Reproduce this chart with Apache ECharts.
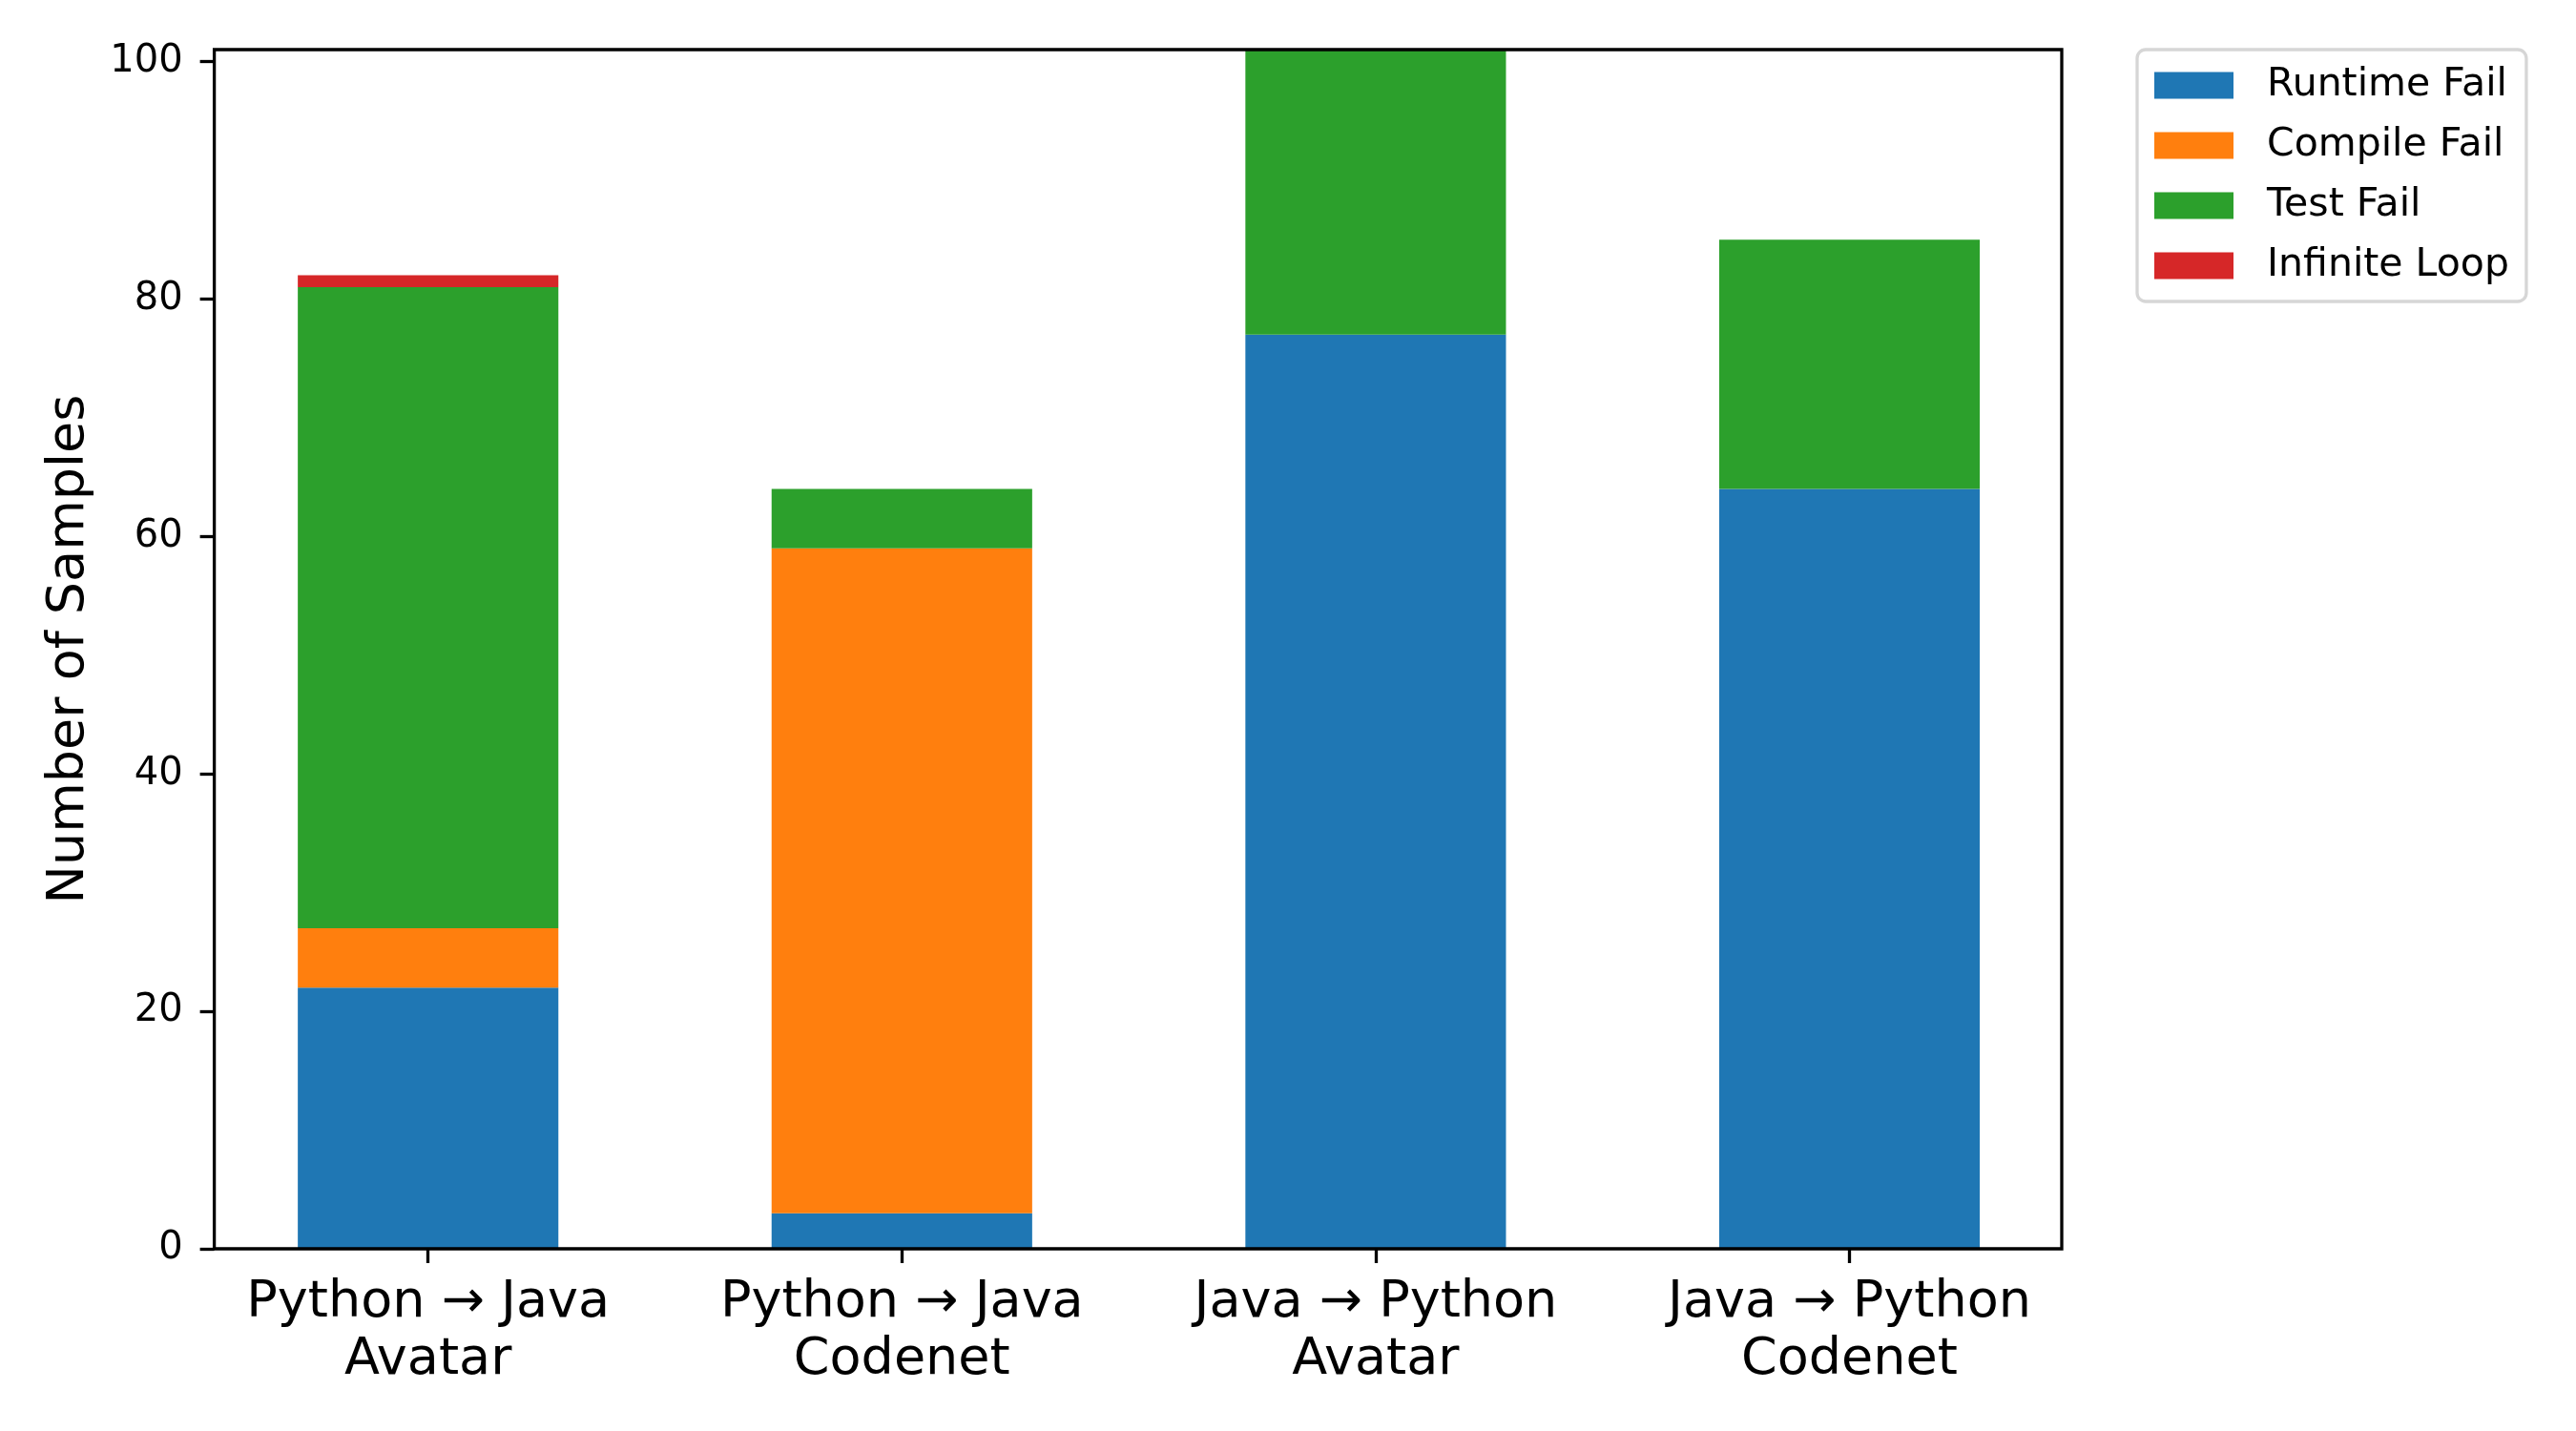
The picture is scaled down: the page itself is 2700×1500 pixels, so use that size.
<!DOCTYPE html>
<html lang="en">
<head>
    <meta charset="UTF-8">
    <title>Failure types</title>
    <script src="https://cdn.jsdelivr.net/npm/echarts@6/dist/echarts.min.js"></script>
    <style>
        html, body { margin: 0; padding: 0; background: #fff; }
        #chart { width: 2700px; height: 1500px; }
    </style>
</head>
<body>
<div id="chart"></div>
<script>
    // data
    var categories = ['Python → Java\nAvatar', 'Python → Java\nCodenet', 'Java → Python\nAvatar', 'Java → Python\nCodenet'];
    var runtimeFail = [22, 3, 77, 64];
    var compileFail = [5, 56, 0, 0];
    var testFail = [54, 5, 24, 21];
    var infiniteLoop = [1, 0, 0, 0];
    var yTicks = [0, 20, 40, 60, 80, 100];
    var yMax = 101;

    var font = 'DejaVu Sans';
    var colors = ['#1f77b4', '#ff7f0e', '#2ca02c', '#d62728'];

    function barSeries(name, data, color) {
        return {
            name: name,
            type: 'bar',
            stack: 'total',
            xAxisIndex: 0,
            yAxisIndex: 0,
            barWidth: '55%',
            itemStyle: {color: color},
            data: data
        };
    }

    var option = {
        backgroundColor: '#fff',
        animation: false,
        textStyle: {fontFamily: font},
        grid: [
            // bars: category band spans -0.5..3.5
            {left: 200.4, right: 513.2, top: 52, bottom: 191},
            // frame: matplotlib limits about -0.45..3.45
            {left: 224.6, right: 539, top: 52, bottom: 191, show: true,
                borderColor: '#000', borderWidth: 3.3, backgroundColor: 'transparent', z: 10}
        ],
        legend: {
            orient: 'vertical',
            left: 2240,
            top: 52,
            padding: [17, 18, 17, 18],
            itemWidth: 83,
            itemHeight: 28,
            itemGap: 22,
            backgroundColor: '#fff',
            borderColor: '#d6d6d6',
            borderWidth: 3.3,
            borderRadius: 9,
            icon: 'rect',
            textStyle: {fontFamily: font, fontSize: 41, color: '#000', lineHeight: 28, padding: [0, 0, 0, 30]},
            data: ['Runtime Fail', 'Compile Fail', 'Test Fail', 'Infinite Loop']
        },
        xAxis: [
            {
                type: 'category',
                gridIndex: 0,
                data: categories,
                axisLine: {show: false},
                axisTick: {show: true, alignWithLabel: true, length: 15, lineStyle: {color: '#000', width: 3.3}},
                axisLabel: {color: '#000', fontSize: 54, fontFamily: font, lineHeight: 60, margin: 27}
            },
            {
                type: 'value',
                gridIndex: 1,
                show: false
            }
        ],
        yAxis: [
            {
                type: 'value',
                gridIndex: 0,
                min: 0,
                max: yMax,
                show: false
            },
            {
                type: 'value',
                gridIndex: 1,
                min: 0,
                max: yMax,
                z: 10,
                name: 'Number of Samples',
                nameLocation: 'middle',
                nameGap: 125,
                nameTextStyle: {color: '#000', fontSize: 54, fontFamily: font},
                splitLine: {show: false},
                axisLine: {show: false},
                axisTick: {show: true, length: 15, customValues: yTicks, lineStyle: {color: '#000', width: 3.3}},
                axisLabel: {color: '#000', fontSize: 40, fontFamily: font, margin: 33, customValues: yTicks}
            }
        ],
        series: [
            barSeries('Runtime Fail', runtimeFail, colors[0]),
            barSeries('Compile Fail', compileFail, colors[1]),
            barSeries('Test Fail', testFail, colors[2]),
            barSeries('Infinite Loop', infiniteLoop, colors[3])
        ]
    };

    var chart = echarts.init(document.getElementById('chart'));
    chart.setOption(option);
</script>
</body>
</html>
